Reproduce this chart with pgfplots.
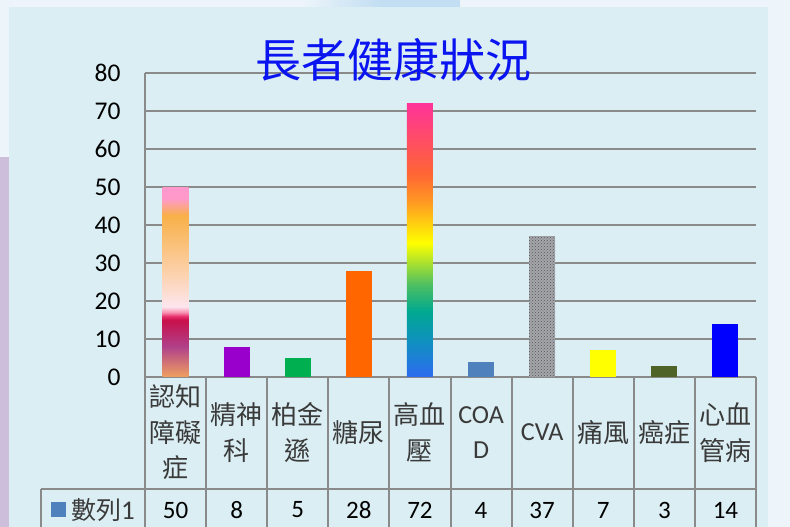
\documentclass[border=0pt]{standalone}
\usepackage{fontspec}
\setmainfont{Carlito}
\newfontfamily\cjk{Noto Sans CJK TC}
\newfontfamily\lat{Carlito}
\usepackage{pgfplots}
\pgfplotsset{compat=1.18}
\usetikzlibrary{patterns}

\definecolor{panel}{HTML}{DBEEF3}
\definecolor{outer}{HTML}{EEF5FA}
\definecolor{lav}{HTML}{CDBFDB}
\definecolor{glow}{HTML}{C2DEF2}
\definecolor{gridgray}{HTML}{8A8A8A}
\definecolor{labgray}{HTML}{3A3A3A}
\definecolor{titleblue}{HTML}{0A14F0}
\definecolor{series}{HTML}{4F81BD}
\definecolor{cPsy}{HTML}{9900CC}
\definecolor{cPark}{HTML}{00B050}
\definecolor{cDiab}{HTML}{FF6600}
\definecolor{cGout}{HTML}{FFFF00}
\definecolor{cCanc}{HTML}{4F6228}
\definecolor{cCard}{HTML}{0000FF}
% dementia bar colours
\definecolor{dA}{HTML}{F0A060}
\definecolor{dB}{HTML}{B0408A}
\definecolor{dC}{HTML}{C8104A}
\definecolor{dD}{HTML}{E83070}
\definecolor{dE}{HTML}{F890B0}
\definecolor{dF}{HTML}{FDE6EE}
\definecolor{dG}{HTML}{FCD0A8}
\definecolor{dH}{HTML}{F8B048}
\definecolor{dI}{HTML}{FF99CC}
% rainbow bar colours
\definecolor{rA}{HTML}{2E6BF0}
\definecolor{rB}{HTML}{1090C0}
\definecolor{rC}{HTML}{00A890}
\definecolor{rD}{HTML}{50C060}
\definecolor{rE}{HTML}{FFFF00}
\definecolor{rF}{HTML}{FF9922}
\definecolor{rG}{HTML}{FF6633}
\definecolor{rH}{HTML}{FF3399}
\definecolor{cvagray}{HTML}{A4A6AA}
\definecolor{cvadark}{HTML}{55575B}

\pgfdeclareverticalshading{dementia}{100bp}{color(0bp)=(dA); color(25bp)=(dA); color(33bp)=(dB); color(40bp)=(dC); color(41bp)=(dD); color(42bp)=(dE); color(43.5bp)=(dF); color(53bp)=(dG); color(67.5bp)=(dH); color(72bp)=(dI); color(75bp)=(dI); color(100bp)=(dI)}
\pgfdeclareverticalshading{rainbowbar}{100bp}{color(0bp)=(rA); color(25bp)=(rA); color(31.5bp)=(rB); color(37bp)=(rC); color(42bp)=(rD); color(49.5bp)=(rE); color(57bp)=(rF); color(62bp)=(rG); color(75bp)=(rH); color(100bp)=(rH)}

\begin{document}
\begin{tikzpicture}[x=1pt, y=1pt]
\path[use as bounding box] (0,0) rectangle (790,527);
\clip (0,0) rectangle (790,527);
% background
\fill[outer] (0,0) rectangle (790,527);
\shade[left color=outer, right color=glow, middle color=glow] (300,520) rectangle (460,527);
\fill[lav] (0,0) rectangle (9,370);
\fill[panel] (9,0) rectangle (768,520);

\begin{axis}[
  at={(145pt,150pt)}, anchor=south west,
  scale only axis, width=611pt, height=304pt,
  xmin=-0.5, xmax=9.5, ymin=0, ymax=80,
  ytick={0,10,...,80},
  xtick={0,...,9},
  xticklabels={認知\\障礙\\症, 精神\\科, 柏金\\遜, 糖尿, 高血\\壓, {\lat COA}\\{\lat D}, {\lat CVA}, 痛風, 癌症, 心血\\管病},
  ymajorgrids, grid style={draw=gridgray, line width=2pt},
  axis line style={draw=none},
  major tick length=0pt,
  /pgf/number format/assume math mode=true,
  yticklabel style={font=\lat\fontsize{25.5}{25.5}\selectfont, xshift=-21pt, text=black},
  xticklabel style={anchor=center, yshift=-55.5pt, align=center, font=\cjk\fontsize{26}{35.5}\selectfont, text=labgray},
  clip=false,
  bb/.style={ybar, bar width=26pt, bar shift=0pt, draw=none},
]
\addplot[bb, shading=dementia] coordinates {(0,50)};
\addplot[bb, fill=cPsy] coordinates {(1,8)};
\addplot[bb, fill=cPark] coordinates {(2,5)};
\addplot[bb, fill=cDiab] coordinates {(3,28)};
\addplot[bb, shading=rainbowbar] coordinates {(4,72)};
\addplot[bb, fill=series] coordinates {(5,4)};
\addplot[bb, fill=cvagray, postaction={pattern=crosshatch dots, pattern color=cvadark}] coordinates {(6,37)};
\addplot[bb, fill=cGout] coordinates {(7,7)};
\addplot[bb, fill=cCanc] coordinates {(8,3)};
\addplot[bb, fill=cCard] coordinates {(9,14)};
\end{axis}

% data table
\begin{scope}[gridgray, line width=2pt]
\draw (145,454) -- (145,0);
\draw (756,150) -- (756,0);
\foreach \k in {1,...,9} { \draw ({145+61.1*\k},150) -- ({145+61.1*\k},0); }
\draw (41,38) -- (756,38);
\draw (41,38) -- (41,0);
\end{scope}
\foreach \v [count=\k from 0] in {50,8,5,28,72,4,37,7,3,14} {
  \node[font=\lat\fontsize{25}{25}\selectfont, text=black] at ({145+61.1*(\k+0.5)},17) {\v};
}
\fill[series] (51,10) rectangle (66,25);
\node[anchor=west, inner sep=0pt, font=\fontsize{25}{25}\selectfont, text=labgray] at (71,17) {{\cjk 數列}\lat\fontsize{27}{27}\selectfont 1};

% title
\node[font=\cjk\fontsize{46}{46}\selectfont, text=titleblue] at (393,467) {長者健康狀況};
\end{tikzpicture}
\end{document}
